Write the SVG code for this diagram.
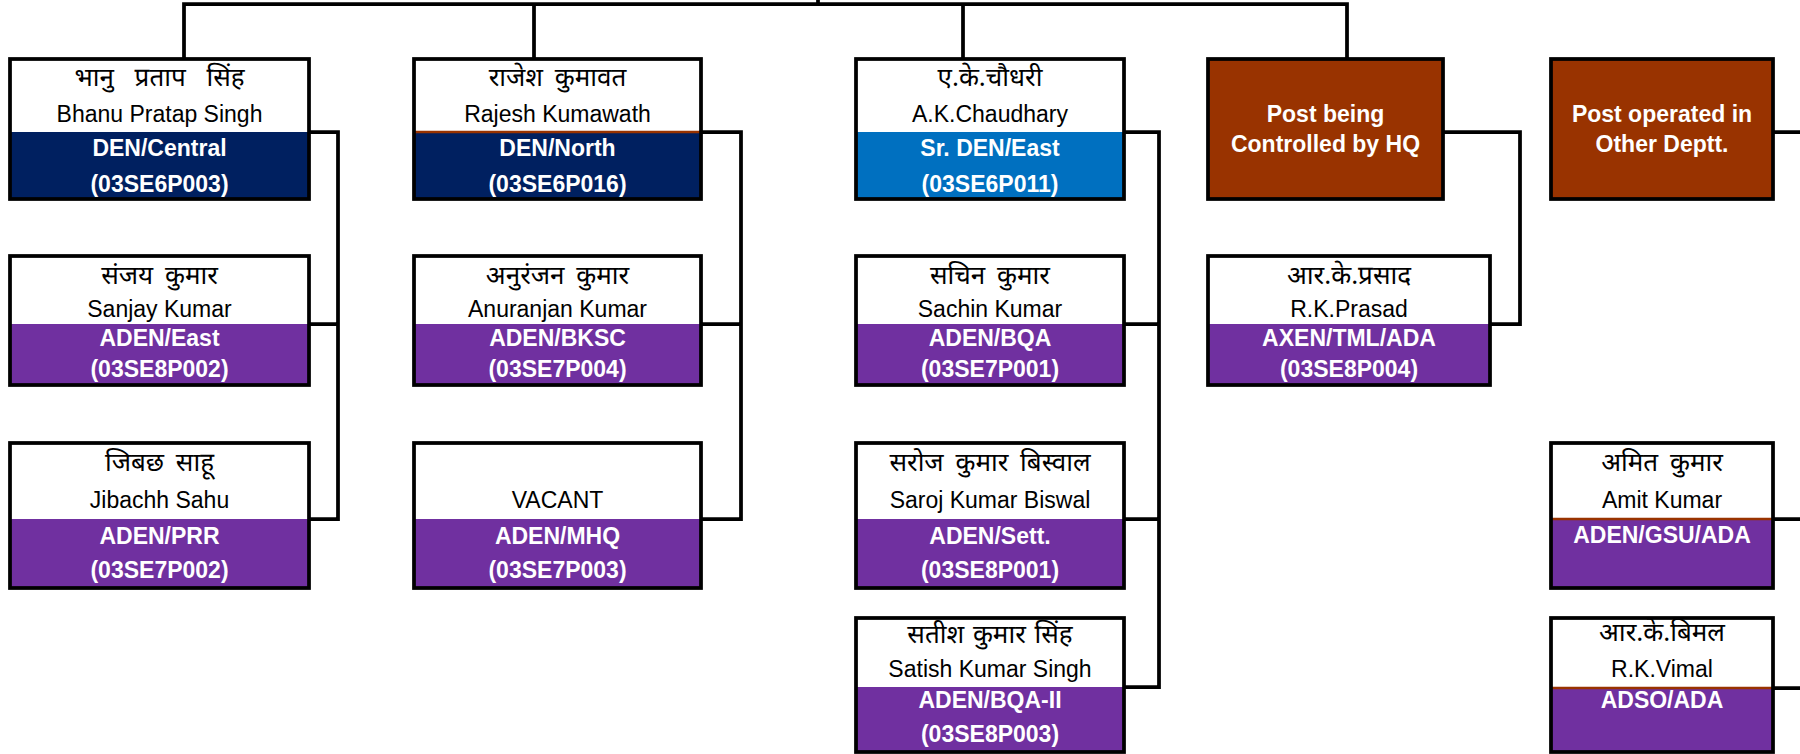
<svg xmlns="http://www.w3.org/2000/svg" width="1800" height="754" viewBox="0 0 1800 754">
<style>
  .bg { fill: #ffffff; }
  .out { fill: none; stroke: #000000; stroke-width: 3.75; }
  .conn { fill: none; stroke: #000000; stroke-width: 3.75; stroke-linejoin: miter; stroke-linecap: butt; }
  .navy { fill: #002060; }
  .blue { fill: #0070C0; }
  .purple { fill: #7030A0; }
  .brown { fill: #993300; }
  .bline { stroke: #993300; stroke-width: 2.5; }
  .hi { font-family: "Noto Sans Devanagari", "Mangal", "Noto Sans", "Liberation Sans", sans-serif; font-size: 26px; word-spacing: 5px; fill: #000000; text-anchor: middle; }
  .en { font-family: "Liberation Sans", Arial, sans-serif; font-size: 23px; fill: #000000; text-anchor: middle; }
  .lb { font-family: "Liberation Sans", Arial, sans-serif; font-size: 23px; font-weight: bold; fill: #ffffff; text-anchor: middle; }
</style>

<g id="connectors">
  <path class="conn" d="M818,0 V4"/>
  <path class="conn" d="M184,59 V4 H1347 V59"/>
  <path class="conn" d="M534,4 V59"/>
  <path class="conn" d="M963,4 V59"/>
  <path class="conn" d="M309,132 H338 V519 H309 M338,324 H309"/>
  <path class="conn" d="M701,132 H741 V519 H701 M741,324 H701"/>
  <path class="conn" d="M1124,132 H1159 V687 H1124 M1159,324 H1124 M1159,519 H1124"/>
  <path class="conn" d="M1443,132 H1520 V324 H1490"/>
  <path class="conn" d="M1773,132 H1800 M1773,519 H1800 M1773,688 H1800"/>
</g>

<g id="node-bhanu">
  <rect class="bg" x="10" y="59" width="299" height="73"/>
  <rect class="navy" x="10" y="132" width="299" height="67"/>
  <rect class="out" x="10" y="59" width="299" height="140"/>
  <text class="hi" x="159.5" y="86" style="word-spacing:14px">भानु प्रताप सिंह</text>
  <text class="en" x="159.5" y="122">Bhanu Pratap Singh</text>
  <text class="lb" x="159.5" y="156">DEN/Central</text>
  <text class="lb" x="159.5" y="192">(03SE6P003)</text>
</g>

<g id="node-sanjay">
  <rect class="bg" x="10" y="256" width="299" height="68"/>
  <rect class="purple" x="10" y="324" width="299" height="61"/>
  <rect class="out" x="10" y="256" width="299" height="129"/>
  <text class="hi" x="159.5" y="284">संजय कुमार</text>
  <text class="en" x="159.5" y="317">Sanjay Kumar</text>
  <text class="lb" x="159.5" y="346">ADEN/East</text>
  <text class="lb" x="159.5" y="377">(03SE8P002)</text>
</g>

<g id="node-jibachh">
  <rect class="bg" x="10" y="443" width="299" height="76"/>
  <rect class="purple" x="10" y="519" width="299" height="69"/>
  <rect class="out" x="10" y="443" width="299" height="145"/>
  <text class="hi" x="159.5" y="471">जिबछ साहू</text>
  <text class="en" x="159.5" y="508">Jibachh Sahu</text>
  <text class="lb" x="159.5" y="544">ADEN/PRR</text>
  <text class="lb" x="159.5" y="578">(03SE7P002)</text>
</g>

<g id="node-rajesh">
  <rect class="bg" x="414" y="59" width="287" height="73"/>
  <rect class="navy" x="414" y="132" width="287" height="67"/>
  <line class="bline" x1="414" y1="132" x2="701" y2="132"/>
  <rect class="out" x="414" y="59" width="287" height="140"/>
  <text class="hi" x="557.5" y="86">राजेश कुमावत</text>
  <text class="en" x="557.5" y="122">Rajesh Kumawath</text>
  <text class="lb" x="557.5" y="156">DEN/North</text>
  <text class="lb" x="557.5" y="192">(03SE6P016)</text>
</g>

<g id="node-anuranjan">
  <rect class="bg" x="414" y="256" width="287" height="68"/>
  <rect class="purple" x="414" y="324" width="287" height="61"/>
  <rect class="out" x="414" y="256" width="287" height="129"/>
  <text class="hi" x="557.5" y="284">अनुरंजन कुमार</text>
  <text class="en" x="557.5" y="317">Anuranjan Kumar</text>
  <text class="lb" x="557.5" y="346">ADEN/BKSC</text>
  <text class="lb" x="557.5" y="377">(03SE7P004)</text>
</g>

<g id="node-vacant">
  <rect class="bg" x="414" y="443" width="287" height="76"/>
  <rect class="purple" x="414" y="519" width="287" height="69"/>
  <rect class="out" x="414" y="443" width="287" height="145"/>
  <text class="en" x="557.5" y="508">VACANT</text>
  <text class="lb" x="557.5" y="544">ADEN/MHQ</text>
  <text class="lb" x="557.5" y="578">(03SE7P003)</text>
</g>

<g id="node-chaudhary">
  <rect class="bg" x="856" y="59" width="268" height="73"/>
  <rect class="blue" x="856" y="132" width="268" height="67"/>
  <rect class="out" x="856" y="59" width="268" height="140"/>
  <text class="hi" x="990" y="86">ए.के.चौधरी</text>
  <text class="en" x="990" y="122">A.K.Chaudhary</text>
  <text class="lb" x="990" y="156">Sr. DEN/East</text>
  <text class="lb" x="990" y="192">(03SE6P011)</text>
</g>

<g id="node-sachin">
  <rect class="bg" x="856" y="256" width="268" height="68"/>
  <rect class="purple" x="856" y="324" width="268" height="61"/>
  <rect class="out" x="856" y="256" width="268" height="129"/>
  <text class="hi" x="990" y="284">सचिन कुमार</text>
  <text class="en" x="990" y="317">Sachin Kumar</text>
  <text class="lb" x="990" y="346">ADEN/BQA</text>
  <text class="lb" x="990" y="377">(03SE7P001)</text>
</g>

<g id="node-saroj">
  <rect class="bg" x="856" y="443" width="268" height="76"/>
  <rect class="purple" x="856" y="519" width="268" height="69"/>
  <rect class="out" x="856" y="443" width="268" height="145"/>
  <text class="hi" x="990" y="471">सरोज कुमार बिस्वाल</text>
  <text class="en" x="990" y="508">Saroj Kumar Biswal</text>
  <text class="lb" x="990" y="544">ADEN/Sett.</text>
  <text class="lb" x="990" y="578">(03SE8P001)</text>
</g>

<g id="node-satish">
  <rect class="bg" x="856" y="618" width="268" height="69"/>
  <rect class="purple" x="856" y="687" width="268" height="65"/>
  <rect class="out" x="856" y="618" width="268" height="134"/>
  <text class="hi" x="990" y="643" style="word-spacing:2px">सतीश कुमार सिंह</text>
  <text class="en" x="990" y="677">Satish Kumar Singh</text>
  <text class="lb" x="990" y="708">ADEN/BQA-II</text>
  <text class="lb" x="990" y="742">(03SE8P003)</text>
</g>

<g id="node-hq">
  <rect class="brown" x="1208" y="59" width="235" height="140"/>
  <rect class="out" x="1208" y="59" width="235" height="140"/>
  <text class="lb" x="1325.5" y="122">Post being</text>
  <text class="lb" x="1325.5" y="152">Controlled by HQ</text>
</g>

<g id="node-prasad">
  <rect class="bg" x="1208" y="256" width="282" height="68"/>
  <rect class="purple" x="1208" y="324" width="282" height="61"/>
  <rect class="out" x="1208" y="256" width="282" height="129"/>
  <text class="hi" x="1349" y="284">आर.के.प्रसाद</text>
  <text class="en" x="1349" y="317">R.K.Prasad</text>
  <text class="lb" x="1349" y="346">AXEN/TML/ADA</text>
  <text class="lb" x="1349" y="377">(03SE8P004)</text>
</g>

<g id="node-other">
  <rect class="brown" x="1551" y="59" width="222" height="140"/>
  <rect class="out" x="1551" y="59" width="222" height="140"/>
  <text class="lb" x="1662" y="122">Post operated in</text>
  <text class="lb" x="1662" y="152">Other Deptt.</text>
</g>

<g id="node-amit">
  <rect class="bg" x="1551" y="443" width="222" height="76"/>
  <rect class="purple" x="1551" y="519" width="222" height="69"/>
  <line class="bline" x1="1551" y1="519" x2="1773" y2="519"/>
  <rect class="out" x="1551" y="443" width="222" height="145"/>
  <text class="hi" x="1662" y="471">अमित कुमार</text>
  <text class="en" x="1662" y="508">Amit Kumar</text>
  <text class="lb" x="1662" y="543">ADEN/GSU/ADA</text>
</g>

<g id="node-vimal">
  <rect class="bg" x="1551" y="618" width="222" height="70"/>
  <rect class="purple" x="1551" y="688" width="222" height="64"/>
  <line class="bline" x1="1551" y1="688" x2="1773" y2="688"/>
  <rect class="out" x="1551" y="618" width="222" height="134"/>
  <text class="hi" x="1662" y="641">आर.के.बिमल</text>
  <text class="en" x="1662" y="677">R.K.Vimal</text>
  <text class="lb" x="1662" y="708">ADSO/ADA</text>
</g>
</svg>
